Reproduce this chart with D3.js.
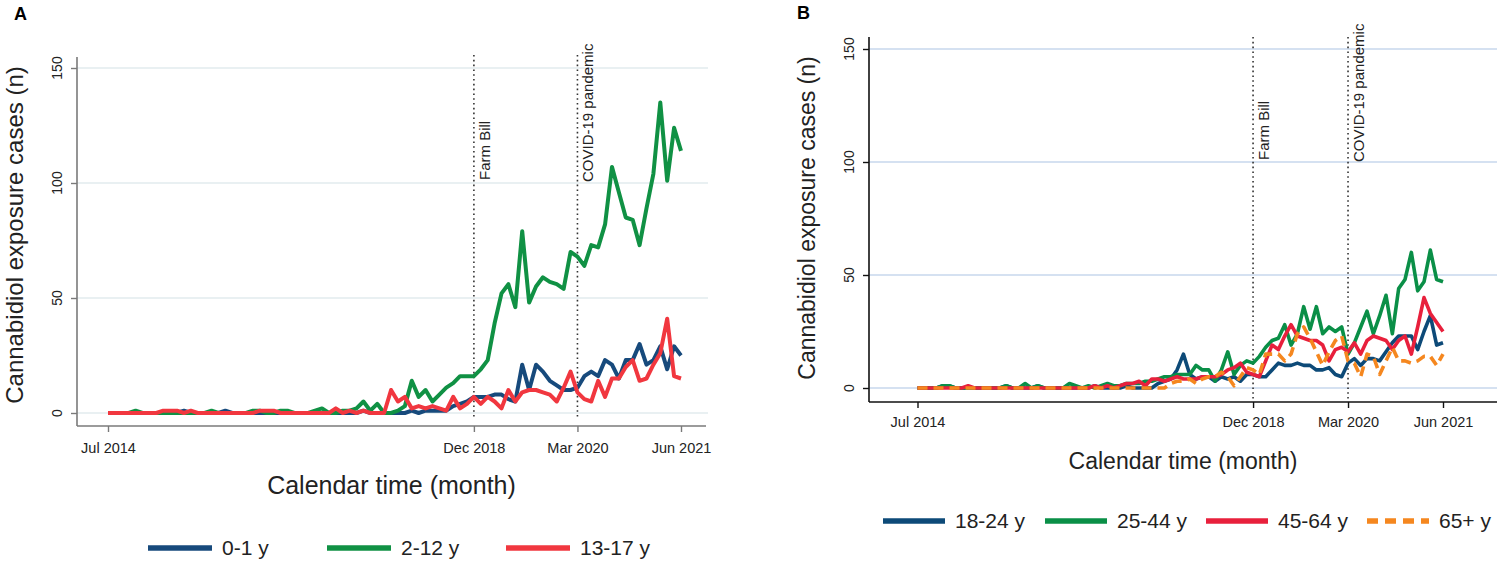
<!DOCTYPE html>
<html><head><meta charset="utf-8">
<script src="https://cdn.jsdelivr.net/npm/d3@7"></script>
<style>body{margin:0;background:#fff}svg{display:block;font-family:"Liberation Sans",Arial,sans-serif}</style>
</head><body>
<svg id="chart" width="1500" height="569"></svg>
<script>
// ---- data (monthly, Jul 2014 .. Jun 2021, 84 months) ----
const tickMonths = [0, 53, 68, 83];
const tickLabels = ["Jul 2014", "Dec 2018", "Mar 2020", "Jun 2021"];
const eventMonths = [53, 68];
const eventLabels = ["Farm Bill", "COVID-19 pandemic"];
const yTicks = [0, 50, 100, 150];

const seriesNamesA = ["0-1 y", "2-12 y", "13-17 y"];
const a0_1 = [0,0,0,0,0,0,0,0,0,0,0,1,0,0,0,0,0,1,0,0,0,0,0,0,0,0,0,0,0,0,0,0,0,0,0,0,0,1,0,0,0,0,0,0,1,0,1,1,1,1,3,4,5,7,7,7,8,8,6,5,21,10,21,18,14,12,10,10,11,16,18,16,23,21,15,23,23,30,21,23,29,19,29,25];
const a2_12 = [0,0,0,0,1,0,0,0,0,0,0,0,0,0,0,1,0,0,0,0,0,1,1,0,0,1,1,0,0,0,1,2,0,0,1,1,2,5,1,4,0,0,1,3,14,7,10,5,8,11,13,16,16,16,19,23,39,52,56,46,79,48,55,59,57,56,54,70,68,64,73,72,82,107,96,85,84,73,89,104,135,101,124,114];
const a13_17 = [0,0,0,0,0,0,0,0,1,1,1,0,1,0,0,0,0,0,0,0,0,0,1,1,1,0,0,0,0,0,0,0,0,2,0,1,0,1,0,0,0,10,5,7,2,3,2,3,2,1,7,2,4,7,4,7,5,2,10,5,9,10,10,9,8,5,11,18,9,6,5,14,7,15,15,20,23,14,15,21,26,41,16,15];

const seriesNamesB = ["18-24 y", "25-44 y", "45-64 y", "65+ y"];
const b18_24 = [0,0,0,0,1,1,0,0,0,0,0,0,0,0,1,0,0,0,0,1,0,0,0,0,0,0,0,0,1,0,0,0,0,1,0,0,0,0,2,3,4,8,15,6,4,5,5,3,5,4,5,3,6,6,5,5,8,11,10,10,11,10,10,8,8,9,6,5,11,13,10,13,13,12,16,20,23,23,23,17,25,32,19,20];
const b25_44 = [0,0,0,0,1,1,0,0,0,0,0,0,0,0,1,0,0,2,0,1,0,0,0,0,2,1,0,1,0,1,2,1,1,2,2,2,3,3,4,5,5,6,6,6,10,8,8,3,8,16,6,10,12,11,14,18,21,22,28,19,24,36,26,36,24,27,25,27,15,20,27,34,24,32,41,24,44,48,60,43,47,61,48,47];
const b45_64 = [0,0,0,0,0,0,0,0,1,0,0,0,0,0,0,0,0,0,0,0,0,0,0,0,0,0,0,0,1,0,1,0,1,2,2,3,1,4,4,3,4,5,4,4,4,5,5,5,6,8,9,11,7,6,5,12,19,17,23,28,23,22,21,21,19,12,17,18,16,20,15,21,23,22,21,17,21,23,15,27,40,33,29,25];
const b65 = [0,0,0,0,0,0,0,0,0,0,0,0,0,0,0,0,0,0,0,0,0,0,0,0,0,0,0,0,0,0,0,0,0,0,0,0,0,0,0,0,2,3,3,4,2,4,5,5,7,5,1,5,9,8,6,15,15,15,12,15,24,27,22,16,10,16,21,23,12,11,5,15,14,6,12,18,12,12,11,12,14,14,10,15];

// ---- drawing ----
const svg = d3.select("#chart");
const FONT = '"Liberation Sans",Arial,sans-serif';

function panel(cfg) {
  const g = svg.append("g");
  const x = d3.scaleLinear().domain([0, 83]).range(cfg.xr);
  const y = d3.scaleLinear().domain([0, 150]).range(cfg.yr);

  // panel letter
  g.append("text").attr("x", cfg.letterX).attr("y", cfg.letterY)
    .attr("font-weight", "bold").attr("font-size", 18).attr("font-family", FONT)
    .text(cfg.letter);

  // gridlines
  g.selectAll(".grid").data(yTicks).join("line")
    .attr("x1", cfg.axX).attr("x2", cfg.gridEnd)
    .attr("y1", d => y(d)).attr("y2", d => y(d))
    .attr("stroke", cfg.gridColor).attr("stroke-width", 1.6);

  // y axis (ticks from d3 axis, labels rotated)
  const yAxis = d3.axisLeft(y).tickValues(yTicks).tickSize(6).tickSizeOuter(0).tickFormat("");
  const gy = g.append("g").attr("transform", `translate(${cfg.axX},0)`).call(yAxis);
  gy.select(".domain").remove();
  gy.append("line").attr("x1", 0).attr("x2", 0).attr("y1", cfg.axTop).attr("y2", cfg.axBottom)
    .attr("stroke", cfg.axisColor).attr("stroke-width", 1.6);
  gy.selectAll(".tick line").attr("stroke", cfg.axisColor).attr("stroke-width", 1.4);
  g.selectAll(".ylab").data(yTicks).join("text")
    .attr("transform", d => `translate(${cfg.yLabX},${y(d)}) rotate(-90)`)
    .attr("text-anchor", "middle")
    .attr("font-size", 14).attr("font-family", FONT).attr("fill", "#222")
    .text(d => d);

  // x axis
  const xAxis = d3.axisBottom(x).tickValues(tickMonths).tickFormat((d, i) => tickLabels[i]).tickSize(6).tickSizeOuter(0);
  const gx = g.append("g").attr("transform", `translate(0,${cfg.axBottom})`).call(xAxis);
  gx.select(".domain").remove();
  gx.append("line").attr("x1", cfg.axX).attr("x2", cfg.axRight).attr("y1", 0).attr("y2", 0)
    .attr("stroke", cfg.axisColor).attr("stroke-width", 1.6);
  gx.selectAll(".tick line").attr("stroke", cfg.axisColor).attr("stroke-width", 1.4);
  gx.selectAll(".tick text").attr("font-size", 14.5).attr("font-family", FONT).attr("fill", "#222")
    .attr("dy", 0).attr("y", cfg.xLabY - cfg.axBottom);

  // axis titles
  g.append("text").attr("x", (cfg.axX + cfg.axRight) / 2).attr("y", cfg.xTitleY)
    .attr("text-anchor", "middle").attr("font-size", cfg.xTitleSize).attr("font-family", FONT).attr("fill", "#222")
    .text("Calendar time (month)");
  g.append("text").attr("transform", `translate(${cfg.yTitleX},${cfg.yTitleY}) rotate(-90)`)
    .attr("text-anchor", "middle").attr("font-size", cfg.yTitleSize).attr("font-family", FONT).attr("fill", "#222")
    .text("Cannabidiol exposure cases (n)");

  // event lines
  eventMonths.forEach((m, i) => {
    g.append("line").attr("x1", x(m)).attr("x2", x(m)).attr("y1", cfg.evTop).attr("y2", cfg.evBottom)
      .attr("stroke", "#333").attr("stroke-width", 1.6).attr("stroke-dasharray", "1.6,3.2");
    g.append("text").attr("transform", `translate(${x(m) + cfg.evDx},${cfg.evLabY[i]}) rotate(-90)`)
      .attr("font-size", 15).attr("font-family", FONT).attr("fill", "#222").text(eventLabels[i]);
  });

  // series lines
  const line = d3.line().x((d, i) => x(i)).y(d => y(d));
  cfg.series.forEach(s => {
    g.append("path").datum(s.values).attr("d", line)
      .attr("fill", "none").attr("stroke", s.color).attr("stroke-width", cfg.lw)
      .attr("stroke-linejoin", "round").attr("stroke-linecap", "butt")
      .attr("stroke-dasharray", s.dash || null);
  });

  // legend
  cfg.series.forEach((s, i) => {
    const lx = cfg.legX[i];
    g.append("line").attr("x1", lx).attr("x2", lx + cfg.legLen).attr("y1", cfg.legY).attr("y2", cfg.legY)
      .attr("stroke", s.color).attr("stroke-width", 5.5).attr("stroke-dasharray", s.dash ? "11,7" : null);
    g.append("text").attr("x", lx + cfg.legLen + 10).attr("y", cfg.legY + 7)
      .attr("font-size", 21).attr("font-family", FONT).attr("fill", "#222").text(s.name);
  });
}

panel({
  letter: "A", letterX: 14, letterY: 20,
  xr: [108, 681], yr: [413, 68],
  axX: 77, axRight: 706, axTop: 57, axBottom: 426, gridEnd: 708,
  gridColor: "#e2ebee", axisColor: "#7a7a7a",
  yLabX: 62, xLabY: 453,
  xTitleY: 494, xTitleSize: 25,
  yTitleX: 23, yTitleY: 235, yTitleSize: 24,
  evTop: 55, evBottom: 418, evDx: 16, evLabY: [180, 182],
  lw: 4,
  legX: [148, 327, 506], legY: 548, legLen: 64,
  series: [
    { name: seriesNamesA[0], values: a0_1, color: "#174a7c" },
    { name: seriesNamesA[1], values: a2_12, color: "#109144" },
    { name: seriesNamesA[2], values: a13_17, color: "#f1373f" }
  ]
});

panel({
  letter: "B", letterX: 797, letterY: 19,
  xr: [917.5, 1443], yr: [388, 49],
  axX: 869, axRight: 1497, axTop: 37, axBottom: 402, gridEnd: 1497,
  gridColor: "#c7d7ec", axisColor: "#111",
  yLabX: 854, xLabY: 427,
  xTitleY: 469, xTitleSize: 23,
  yTitleX: 815, yTitleY: 218, yTitleSize: 23,
  evTop: 37, evBottom: 400, evDx: 16, evLabY: [160, 162],
  lw: 3.6,
  legX: [883, 1045, 1206, 1367], legY: 521, legLen: 62,
  series: [
    { name: seriesNamesB[0], values: b18_24, color: "#0d4a78" },
    { name: seriesNamesB[1], values: b25_44, color: "#0a8f47" },
    { name: seriesNamesB[2], values: b45_64, color: "#e8203c" },
    { name: seriesNamesB[3], values: b65, color: "#f5871f", dash: "10,6" }
  ]
});
</script>
</body></html>
